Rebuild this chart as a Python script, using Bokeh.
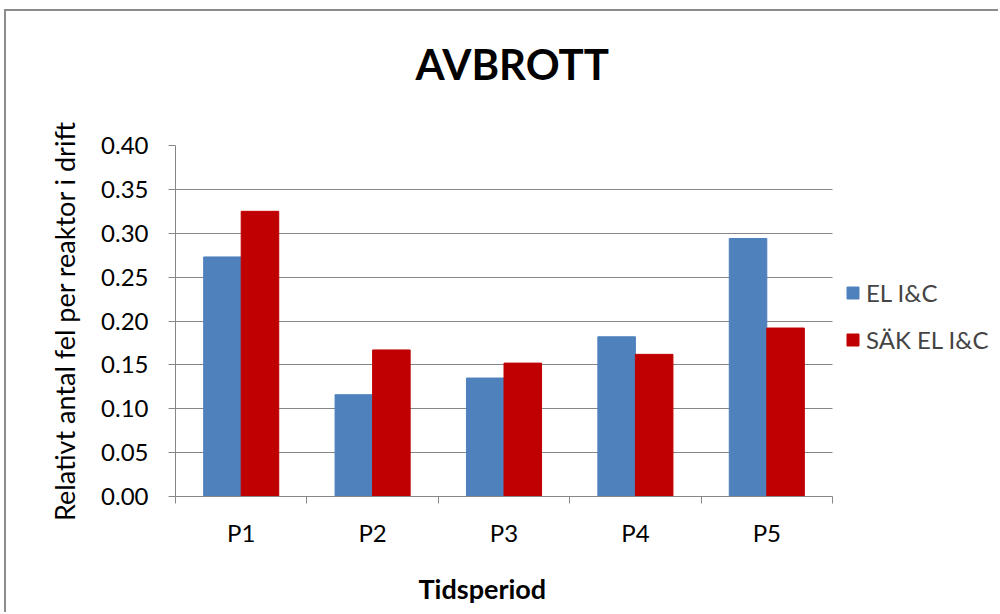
from bokeh.plotting import figure
from bokeh.models import (FixedTicker, Legend, LegendItem, ColumnDataSource, Title,
                          NumeralTickFormatter, Range1d)
from bokeh.embed import file_html
from bokeh.resources import INLINE

categories = ["P1", "P2", "P3", "P4", "P5"]
series_names = ["EL I&C", "SÄK EL I&C"]
el_ic = [0.273, 0.116, 0.135, 0.182, 0.294]
sak_el_ic = [0.325, 0.167, 0.152, 0.162, 0.192]
y_ticks = [0.0, 0.05, 0.10, 0.15, 0.20, 0.25, 0.30, 0.35, 0.40]
title_text = "AVBROTT"
x_title = "Tidsperiod"
y_title = "Relativt antal fel per reaktor i drift"

FONT = "Lato"
BLUE = "#4F81BD"
RED = "#C00000"
GRID = "#868686"

n = len(categories)
bw = 1.0 / 3.5
centers = [i + 0.5 for i in range(n)]
src = ColumnDataSource(dict(
    x1=[c - bw / 2 for c in centers], x2=[c + bw / 2 for c in centers],
    a=el_ic, b=sak_el_ic))

# the frame extends under the legend area; the category axis covers 0..n
x_end = n * 825 / 657
p = figure(width=994, height=603, x_range=Range1d(0, x_end), y_range=Range1d(0, 0.4),
           output_backend="svg", toolbar_location=None,
           min_border_left=169, min_border_right=0, min_border_top=134, min_border_bottom=118)
p.styles = {"margin-top": "9px", "margin-left": "4px",
            "border-top": "2px solid #8c8c8c", "border-left": "2px solid #8c8c8c"}
p.outline_line_color = None
p.background_fill_color = "white"

r1 = p.vbar(x="x1", top="a", width=bw, source=src, fill_color=BLUE, line_color=BLUE)
r2 = p.vbar(x="x2", top="b", width=bw, source=src, fill_color=RED, line_color=RED)

# real title outermost, spacer title next to the frame
p.title.text = title_text
p.title.align = "left"
p.title.offset = 240
p.title.text_font = FONT
p.title.text_font_size = "42px"
p.title.text_font_style = "bold"
p.title.text_color = "black"
p.title.standoff = 0
p.add_layout(Title(text=" ", text_font_size="13px", standoff=40), "above")

# axes
xa = p.xaxis[0]
xa.bounds = (0, n)
xa.ticker = FixedTicker(ticks=centers, minor_ticks=list(range(n + 1)))
xa.major_label_overrides = {c: lab for c, lab in zip(centers, categories)}
xa.major_tick_out = 0
xa.major_tick_in = 0
xa.minor_tick_out = 7
xa.minor_tick_in = 0
xa.minor_tick_line_color = GRID
xa.axis_line_color = GRID
xa.major_label_text_font = FONT
xa.major_label_text_font_size = "24px"
xa.major_label_text_color = "black"
xa.major_label_standoff = 14
xa.axis_label = " "
xa.axis_label_text_font_size = "13px"
xa.axis_label_standoff = 4

# x axis title, placed below the axis
p.add_layout(Title(text=x_title, align="left", offset=243, vertical_align="top",
                   text_font=FONT, text_font_size="27px", text_font_style="bold",
                   text_color="black", standoff=0), "below")

ya = p.yaxis[0]
ya.ticker = FixedTicker(ticks=y_ticks)
ya.formatter = NumeralTickFormatter(format="0.00")
ya.major_tick_out = 7
ya.major_tick_in = 0
ya.minor_tick_out = 0
ya.minor_tick_in = 0
ya.major_tick_line_color = GRID
ya.axis_line_color = GRID
ya.major_label_text_font = FONT
ya.major_label_text_font_size = "24px"
ya.major_label_text_color = "black"
ya.major_label_standoff = 20
ya.axis_label = y_title
ya.axis_label_text_font = FONT
ya.axis_label_text_font_size = "27px"
ya.axis_label_text_font_style = "normal"
ya.axis_label_text_color = "black"
ya.axis_label_standoff = 17

p.xgrid.grid_line_color = None
p.ygrid.ticker = FixedTicker(ticks=y_ticks)
p.ygrid.grid_line_color = GRID
p.ygrid.grid_line_width = 1
p.ygrid.cross_bounds = (0, n)

legend = Legend(items=[LegendItem(label=series_names[0], renderers=[r1]),
                       LegendItem(label=series_names[1], renderers=[r2])],
                location=(670, 142), orientation="vertical",
                border_line_color=None, background_fill_alpha=0,
                padding=0, margin=0, spacing=18,
                glyph_width=15, glyph_height=15, label_standoff=6,
                label_text_font=FONT, label_text_font_size="24px", label_height=24)
p.add_layout(legend, "center")

open("out.html", "w").write(file_html(p, INLINE))
